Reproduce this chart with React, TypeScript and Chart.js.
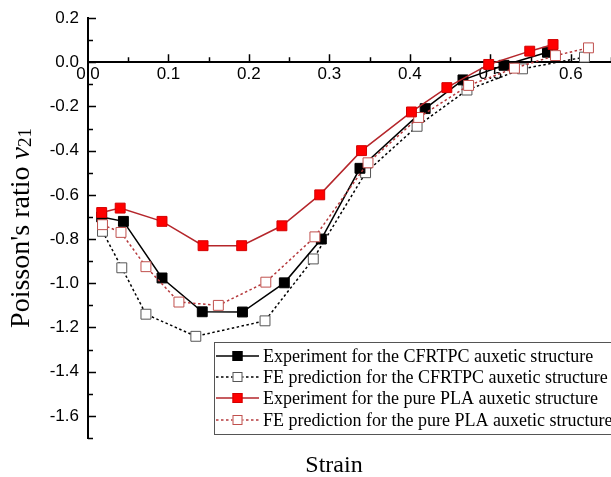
import React, { useEffect, useRef } from "react";
import { Chart, registerables } from "chart.js";

Chart.register(...registerables);

// ---- data ----
const cfrtpcExpStrain = [0.017, 0.044, 0.092, 0.142, 0.192, 0.244, 0.29, 0.338, 0.419, 0.466, 0.517, 0.571];
const cfrtpcExpRatio = [-0.7, -0.72, -0.976, -1.129, -1.13, -0.998, -0.8, -0.48, -0.21, -0.08, -0.014, 0.045];

const cfrtpcFeStrain = [0.018, 0.042, 0.072, 0.134, 0.22, 0.28, 0.345, 0.409, 0.471, 0.54, 0.617];
const cfrtpcFeRatio = [-0.765, -0.93, -1.14, -1.24, -1.17, -0.89, -0.5, -0.29, -0.126, -0.03, 0.023];

const plaExpStrain = [0.017, 0.04, 0.092, 0.143, 0.191, 0.241, 0.288, 0.34, 0.402, 0.446, 0.498, 0.549, 0.578];
const plaExpRatio = [-0.68, -0.66, -0.72, -0.83, -0.83, -0.74, -0.6, -0.4, -0.225, -0.115, -0.01, 0.05, 0.08];

const plaFeStrain = [0.018, 0.041, 0.072, 0.113, 0.162, 0.221, 0.282, 0.348, 0.411, 0.473, 0.53, 0.581, 0.622];
const plaFeRatio = [-0.735, -0.77, -0.925, -1.085, -1.1, -0.995, -0.79, -0.455, -0.25, -0.105, -0.027, 0.03, 0.065];

const xTickValues = [0, 0.1, 0.2, 0.3, 0.4, 0.5, 0.6];
const yTickValues = [0.2, 0, -0.2, -0.4, -0.6, -0.8, -1.0, -1.2, -1.4, -1.6];

const legendLabels = [
  "Experiment for the CFRTPC auxetic structure",
  "FE prediction for the CFRTPC auxetic structure",
  "Experiment for the pure PLA auxetic structure",
  "FE prediction for the pure PLA auxetic structure",
];

const xTitle = "Strain";
const yTitleMain = "Poisson's ratio ";
const yTitleSymbol = "ν";
const yTitleSub = "21";

const zip = (xs: number[], ys: number[]) => xs.map((x, i) => ({ x, y: ys[i] }));

const SERIF = "'Liberation Serif', 'Times New Roman', serif";
const SANS = "'Liberation Sans', Arial, sans-serif";

const styles = [
  { line: "#000000", fill: "#000000", border: "#000000", dash: [] as number[] },
  { line: "#000000", fill: "#ffffff", border: "#555555", dash: [2.5, 2.5] },
  { line: "#b5262b", fill: "#ff0000", border: "#d40000", dash: [] as number[] },
  { line: "#b5393c", fill: "#ffffff", border: "#c0504d", dash: [2.5, 2.5] },
];

const ticksPlugin = {
  id: "innerTicks",
  beforeDatasetsDraw(chart: any) {
    const { ctx, scales } = chart;
    const xs = scales.x;
    const ys = scales.y;
    const left = chart.chartArea.left;
    const y0 = ys.getPixelForValue(0);
    ctx.save();
    ctx.strokeStyle = "#000";
    ctx.lineWidth = 1.5;
    ctx.beginPath();
    yTickValues.forEach((v) => {
      const p = Math.round(ys.getPixelForValue(v)) + 0.5;
      ctx.moveTo(left, p);
      ctx.lineTo(left + 8, p);
      const m = Math.round(ys.getPixelForValue(v - 0.1)) + 0.5;
      ctx.moveTo(left, m);
      ctx.lineTo(left + 5, m);
    });
    xTickValues.forEach((v) => {
      const p = Math.round(xs.getPixelForValue(v)) + 0.5;
      if (v > 0) {
        ctx.moveTo(p, y0);
        ctx.lineTo(p, y0 - 8);
      }
      const m = Math.round(xs.getPixelForValue(v + 0.05)) + 0.5;
      ctx.moveTo(m, y0);
      ctx.lineTo(m, y0 - 5);
    });
    ctx.stroke();
    ctx.restore();
  },
};

const textPlugin = {
  id: "customText",
  afterDraw(chart: any) {
    const { ctx } = chart;
    ctx.save();
    // x title
    ctx.fillStyle = "#000";
    ctx.font = `24px ${SERIF}`;
    ctx.textAlign = "center";
    ctx.textBaseline = "alphabetic";
    ctx.fillText(xTitle, 334, 472);

    // y title (rotated) with subscript
    ctx.save();
    ctx.translate(29, 228);
    ctx.rotate(-Math.PI / 2);
    ctx.textAlign = "left";
    ctx.font = `28px ${SERIF}`;
    const w1 = ctx.measureText(yTitleMain).width;
    ctx.font = `italic 28px ${SERIF}`;
    const w2 = ctx.measureText(yTitleSymbol).width;
    ctx.font = `19px ${SERIF}`;
    const w3 = ctx.measureText(yTitleSub).width;
    const total = w1 + w2 + w3;
    let x = -total / 2;
    ctx.font = `28px ${SERIF}`;
    ctx.fillText(yTitleMain, x, 0);
    x += w1;
    ctx.font = `italic 28px ${SERIF}`;
    ctx.fillText(yTitleSymbol, x, 0);
    x += w2;
    ctx.font = `19px ${SERIF}`;
    ctx.fillText(yTitleSub, x, 2);
    ctx.restore();

    // legend
    const bx = 214, by = 342, bh = 92;
    ctx.fillStyle = "#ffffff";
    ctx.fillRect(bx, by, 420, bh);
    ctx.strokeStyle = "#555";
    ctx.lineWidth = 1;
    ctx.strokeRect(bx + 0.5, by + 0.5, 420, bh);
    const rows = [356, 377, 398, 420];
    rows.forEach((ry, i) => {
      const s = styles[i];
      ctx.strokeStyle = s.line;
      ctx.lineWidth = 1.5;
      ctx.setLineDash(s.dash);
      ctx.beginPath();
      ctx.moveTo(216, ry);
      ctx.lineTo(259, ry);
      ctx.stroke();
      ctx.setLineDash([]);
      ctx.fillStyle = s.fill;
      ctx.fillRect(232.5, ry - 5, 10, 10);
      ctx.strokeStyle = s.border;
      ctx.lineWidth = 1;
      ctx.strokeRect(233, ry - 4.5, 9, 9);
      ctx.fillStyle = "#000";
      ctx.font = `18px ${SERIF}`;
      ctx.textAlign = "left";
      ctx.textBaseline = "middle";
      ctx.fillText(legendLabels[i], 263, ry + 1);
    });
    ctx.restore();
  },
};

export default function App() {
  const ref = useRef<HTMLCanvasElement | null>(null);
  useEffect(() => {
    if (!ref.current) return;
    const seriesX = [cfrtpcExpStrain, cfrtpcFeStrain, plaExpStrain, plaFeStrain];
    const seriesY = [cfrtpcExpRatio, cfrtpcFeRatio, plaExpRatio, plaFeRatio];
    const orders = [2, 3, 0, 1];
    const datasets = seriesX.map((xs, i) => ({
      label: legendLabels[i],
      data: zip(xs, seriesY[i]),
      borderColor: styles[i].line,
      borderWidth: 1.5,
      borderDash: styles[i].dash,
      pointStyle: "rect" as const,
      pointRadius: 7,
      pointBackgroundColor: styles[i].fill,
      pointBorderColor: styles[i].border,
      pointBorderWidth: 1,
      showLine: true,
      fill: false,
      tension: 0,
      order: orders[i],
      clip: false as any,
    }));
    const chart = new Chart(ref.current, {
      type: "line",
      data: { datasets },
      options: {
        animation: false,
        responsive: false,
        maintainAspectRatio: false,
        layout: { autoPadding: false, padding: { left: 0, right: 0, top: 18, bottom: 39 } },
        plugins: { legend: { display: false }, tooltip: { enabled: false } },
        scales: {
          x: {
            type: "linear",
            position: { y: 0 } as any,
            min: 0,
            max: 0.65,
            afterBuildTicks: (scale: any) => {
              scale.ticks = xTickValues.map((v) => ({ value: v }));
            },
            afterFit: (scale: any) => {
              scale.paddingLeft = 0;
              scale.paddingRight = 0;
            },
            ticks: {
              color: "#000",
              font: { family: SANS, size: 17 },
              padding: 2,
              maxRotation: 0,
              autoSkip: false,
              callback: (v: any) => Number(v).toFixed(1),
            },
            grid: { display: true, drawOnChartArea: false, drawTicks: false },
            border: { display: true, color: "#000", width: 2 },
          },
          y: {
            type: "linear",
            min: -1.7,
            max: 0.2,
            afterBuildTicks: (scale: any) => {
              scale.ticks = yTickValues.map((v) => ({ value: v }));
            },
            afterFit: (scale: any) => {
              scale.width = 88;
              scale.paddingTop = 0;
              scale.paddingBottom = 0;
            },
            ticks: {
              color: "#000",
              font: { family: SANS, size: 17 },
              padding: 9,
              autoSkip: false,
              callback: (v: any) => Number(v).toFixed(1),
            },
            grid: { display: true, drawOnChartArea: false, drawTicks: false },
            border: { display: true, color: "#000", width: 2 },
          },
        },
      },
      plugins: [ticksPlugin, textPlugin],
    });
    return () => chart.destroy();
  }, []);
  return (
    <div style={{ position: "absolute", left: 0, top: 0, width: 611, height: 477, background: "#fff", overflow: "hidden" }}>
      <canvas ref={ref} width={611} height={477} style={{ display: "block" }} />
    </div>
  );
}
